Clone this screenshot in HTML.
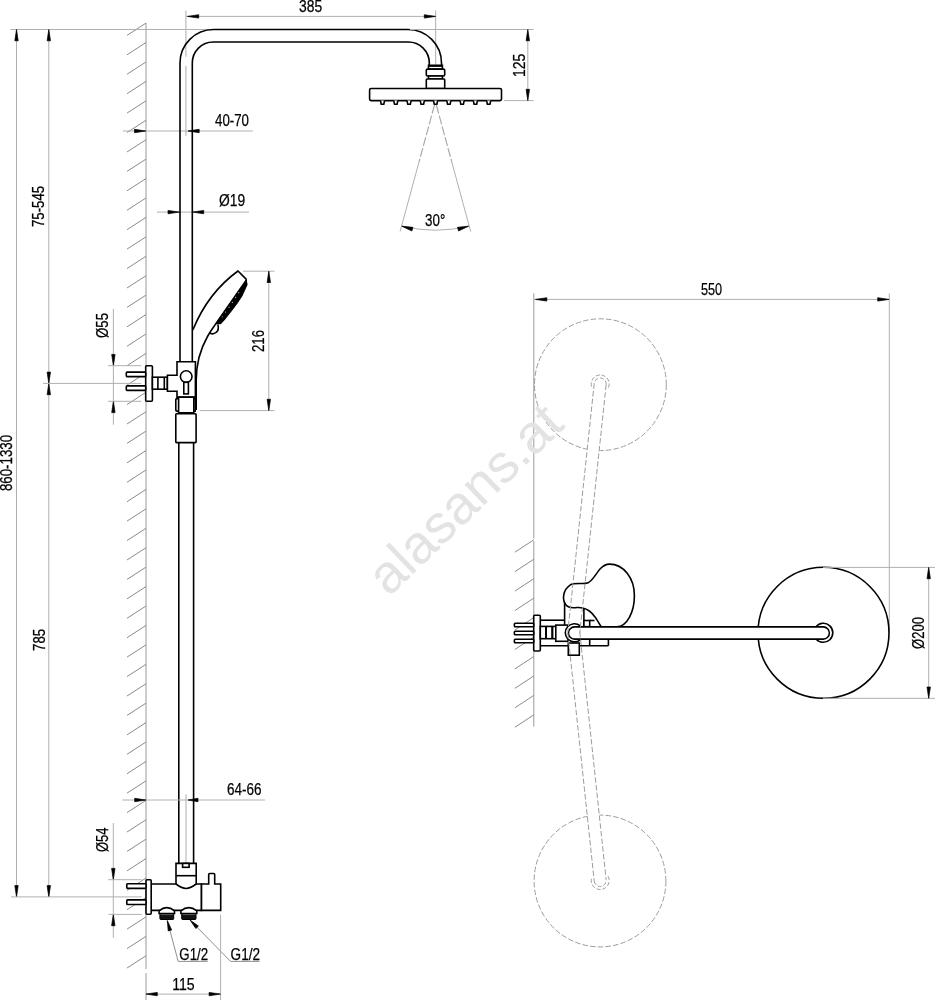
<!DOCTYPE html>
<html><head><meta charset="utf-8"><style>
html,body{margin:0;padding:0;background:#fff;}
svg{display:block;font-family:"Liberation Sans",sans-serif;}
.d{stroke:#b0b0b0;stroke-width:1;fill:none;}
.w{stroke:#9a9a9a;stroke-width:1;fill:none;}
.h{stroke:#8a8a8a;stroke-width:1;fill:none;}
.c{stroke:#bbb;stroke-width:1.2;fill:none;}
.dd{stroke:#9c9c9c;stroke-width:1;fill:none;stroke-dasharray:5.5 2.2;}
.dd2{stroke:#9c9c9c;stroke-width:1;fill:none;stroke-dasharray:4 2;}
.o{stroke:#000;stroke-width:1.6;}
.ar{fill:#000;stroke:#000;stroke-width:0.7;stroke-linejoin:round;}
.sp{stroke:#a8a8a8;stroke-width:1.15;fill:none;stroke-dasharray:9 2.2;}
.ld{stroke:#8f8f8f;stroke-width:1;fill:none;}
.o1{stroke:#000;stroke-width:1;}
text{fill:#000;stroke:#000;stroke-width:0.25px;}
</style></head><body>
<svg width="935" height="1000" viewBox="0 0 935 1000"><g style="will-change:transform">
<line class="w" x1="146.00" y1="23.00" x2="146.00" y2="969.00"/>
<line class="w" x1="146.00" y1="973.00" x2="146.00" y2="1000.00"/>
<line class="h" x1="127.00" y1="35.40" x2="146.00" y2="23.10"/>
<line class="h" x1="127.00" y1="54.83" x2="146.00" y2="42.53"/>
<line class="h" x1="127.00" y1="74.26" x2="146.00" y2="61.96"/>
<line class="h" x1="127.00" y1="93.69" x2="146.00" y2="81.39"/>
<line class="h" x1="127.00" y1="113.12" x2="146.00" y2="100.82"/>
<line class="h" x1="127.00" y1="132.55" x2="146.00" y2="120.25"/>
<line class="h" x1="127.00" y1="151.98" x2="146.00" y2="139.68"/>
<line class="h" x1="127.00" y1="171.41" x2="146.00" y2="159.11"/>
<line class="h" x1="127.00" y1="190.84" x2="146.00" y2="178.54"/>
<line class="h" x1="127.00" y1="210.27" x2="146.00" y2="197.97"/>
<line class="h" x1="127.00" y1="229.70" x2="146.00" y2="217.40"/>
<line class="h" x1="127.00" y1="249.13" x2="146.00" y2="236.83"/>
<line class="h" x1="127.00" y1="268.56" x2="146.00" y2="256.26"/>
<line class="h" x1="127.00" y1="287.99" x2="146.00" y2="275.69"/>
<line class="h" x1="127.00" y1="307.42" x2="146.00" y2="295.12"/>
<line class="h" x1="127.00" y1="326.85" x2="146.00" y2="314.55"/>
<line class="h" x1="127.00" y1="346.28" x2="146.00" y2="333.98"/>
<line class="h" x1="127.00" y1="365.71" x2="146.00" y2="353.41"/>
<line class="h" x1="127.00" y1="385.14" x2="146.00" y2="372.84"/>
<line class="h" x1="127.00" y1="404.57" x2="146.00" y2="392.27"/>
<line class="h" x1="127.00" y1="424.00" x2="146.00" y2="411.70"/>
<line class="h" x1="127.00" y1="443.43" x2="146.00" y2="431.13"/>
<line class="h" x1="127.00" y1="462.86" x2="146.00" y2="450.56"/>
<line class="h" x1="127.00" y1="482.29" x2="146.00" y2="469.99"/>
<line class="h" x1="127.00" y1="501.72" x2="146.00" y2="489.42"/>
<line class="h" x1="127.00" y1="521.15" x2="146.00" y2="508.85"/>
<line class="h" x1="127.00" y1="540.58" x2="146.00" y2="528.28"/>
<line class="h" x1="127.00" y1="560.01" x2="146.00" y2="547.71"/>
<line class="h" x1="127.00" y1="579.44" x2="146.00" y2="567.14"/>
<line class="h" x1="127.00" y1="598.87" x2="146.00" y2="586.57"/>
<line class="h" x1="127.00" y1="618.30" x2="146.00" y2="606.00"/>
<line class="h" x1="127.00" y1="637.73" x2="146.00" y2="625.43"/>
<line class="h" x1="127.00" y1="657.16" x2="146.00" y2="644.86"/>
<line class="h" x1="127.00" y1="676.59" x2="146.00" y2="664.29"/>
<line class="h" x1="127.00" y1="696.02" x2="146.00" y2="683.72"/>
<line class="h" x1="127.00" y1="715.45" x2="146.00" y2="703.15"/>
<line class="h" x1="127.00" y1="734.88" x2="146.00" y2="722.58"/>
<line class="h" x1="127.00" y1="754.31" x2="146.00" y2="742.01"/>
<line class="h" x1="127.00" y1="773.74" x2="146.00" y2="761.44"/>
<line class="h" x1="127.00" y1="793.17" x2="146.00" y2="780.87"/>
<line class="h" x1="127.00" y1="812.60" x2="146.00" y2="800.30"/>
<line class="h" x1="127.00" y1="832.03" x2="146.00" y2="819.73"/>
<line class="h" x1="127.00" y1="851.46" x2="146.00" y2="839.16"/>
<line class="h" x1="127.00" y1="870.89" x2="146.00" y2="858.59"/>
<line class="h" x1="127.00" y1="890.32" x2="146.00" y2="878.02"/>
<line class="h" x1="127.00" y1="909.75" x2="146.00" y2="897.45"/>
<line class="h" x1="127.00" y1="929.18" x2="146.00" y2="916.88"/>
<line class="h" x1="127.00" y1="948.61" x2="146.00" y2="936.31"/>
<line class="h" x1="127.00" y1="968.04" x2="146.00" y2="955.74"/>
<line class="d" x1="10.50" y1="29.50" x2="213.00" y2="29.50"/>
<line class="d" x1="16.50" y1="29.50" x2="16.50" y2="896.90"/>
<path class="ar" d="M16.50,29.50 L18.20,40.80 L14.80,40.80 Z"/>
<path class="ar" d="M16.50,896.90 L14.80,885.60 L18.20,885.60 Z"/>
<line class="d" x1="48.80" y1="29.50" x2="48.80" y2="896.90"/>
<path class="ar" d="M48.80,29.50 L50.50,40.80 L47.10,40.80 Z"/>
<path class="ar" d="M48.80,383.40 L47.10,372.10 L50.50,372.10 Z"/>
<path class="ar" d="M48.80,383.40 L50.50,394.70 L47.10,394.70 Z"/>
<path class="ar" d="M48.80,896.90 L47.10,885.60 L50.50,885.60 Z"/>
<line class="d" x1="43.00" y1="383.40" x2="141.30" y2="383.40"/>
<line class="d" x1="11.00" y1="896.90" x2="141.70" y2="896.90"/>
<text x="44.00" y="227.00" font-size="17.2" textLength="41.07" lengthAdjust="spacingAndGlyphs" transform="rotate(-90 44.00 227.00)">75-545</text>
<text x="12.00" y="491.00" font-size="17.2" textLength="56.01" lengthAdjust="spacingAndGlyphs" transform="rotate(-90 12.00 491.00)">860-1330</text>
<text x="45.00" y="651.00" font-size="17.2" textLength="22.16" lengthAdjust="spacingAndGlyphs" transform="rotate(-90 45.00 651.00)">785</text>
<line class="c" x1="185.90" y1="10.50" x2="185.90" y2="56.70"/>
<line class="c" x1="185.90" y1="65.80" x2="185.90" y2="135.80"/>
<line class="c" x1="435.60" y1="10.60" x2="435.60" y2="65.50"/>
<line class="d" x1="186.20" y1="16.40" x2="435.60" y2="16.40"/>
<path class="ar" d="M187.40,16.40 L198.70,14.70 L198.70,18.10 Z"/>
<path class="ar" d="M435.60,16.40 L424.30,18.10 L424.30,14.70 Z"/>
<text x="299.00" y="12.00" font-size="17.2" textLength="23.16" lengthAdjust="spacingAndGlyphs">385</text>
<line class="d" x1="122.80" y1="131.00" x2="252.90" y2="131.00"/>
<path class="ar" d="M145.80,131.00 L134.50,132.70 L134.50,129.30 Z"/>
<path class="ar" d="M187.90,131.00 L199.20,129.30 L199.20,132.70 Z"/>
<text x="215.00" y="126.00" font-size="17.2" textLength="34.03" lengthAdjust="spacingAndGlyphs">40-70</text>
<line class="d" x1="157.00" y1="212.10" x2="249.00" y2="212.10"/>
<path class="ar" d="M179.30,212.10 L168.00,213.80 L168.00,210.40 Z"/>
<path class="ar" d="M192.40,212.10 L203.70,210.40 L203.70,213.80 Z"/>
<text x="219.00" y="206.00" font-size="17.2" textLength="26.16" lengthAdjust="spacingAndGlyphs">Ø19</text>
<path class="o" fill="none" d="M180,361.8 L180,63 A33.5,33.5 0 0 1 213.5,29.5 L408,29.5 A33.5,33.5 0 0 1 441.5,63 L441.5,65.3"/>
<path class="o" fill="none" d="M192.3,361.8 L192.3,63 A21,21 0 0 1 213.3,42 L408.3,42 A21,21 0 0 1 429.3,63 L429.3,65.3"/>
<line class="d" x1="410.00" y1="29.50" x2="533.60" y2="29.50"/>
<line class="d" x1="504.00" y1="100.60" x2="533.60" y2="100.60"/>
<line class="d" x1="527.80" y1="29.50" x2="527.80" y2="100.60"/>
<path class="ar" d="M527.80,29.50 L529.50,40.80 L526.10,40.80 Z"/>
<path class="ar" d="M527.80,100.60 L526.10,89.30 L529.50,89.30 Z"/>
<text x="524.60" y="77.00" font-size="17.2" textLength="23.25" lengthAdjust="spacingAndGlyphs" transform="rotate(-90 524.60 77.00)">125</text>
<rect class="o" fill="#fff" x="428.5" y="65.3" width="13.9" height="3.8"/>
<rect x="428.5" y="65.3" width="13.9" height="1.6" fill="#000"/>
<rect class="o" fill="#fff" x="426.3" y="69.1" width="18.4" height="6.9" rx="1.2"/>
<rect class="o" fill="#fff" x="428.5" y="76" width="13.9" height="3"/>
<rect class="o" fill="#fff" x="426.3" y="79" width="18.4" height="9.5" rx="0.8"/>
<rect class="o" fill="#fff" x="369.6" y="88.5" width="131.9" height="12.1" rx="1.5"/>
<path class="o" fill="#fff" stroke-linejoin="round" d="M380.50,100.6 L381.20,104.3 L383.80,104.3 L384.50,100.6"/>
<path class="o" fill="#fff" stroke-linejoin="round" d="M393.77,100.6 L394.47,104.3 L397.07,104.3 L397.77,100.6"/>
<path class="o" fill="#fff" stroke-linejoin="round" d="M407.04,100.6 L407.74,104.3 L410.34,104.3 L411.04,100.6"/>
<path class="o" fill="#fff" stroke-linejoin="round" d="M420.31,100.6 L421.01,104.3 L423.61,104.3 L424.31,100.6"/>
<path class="o" fill="#fff" stroke-linejoin="round" d="M433.58,100.6 L434.28,104.3 L436.88,104.3 L437.58,100.6"/>
<path class="o" fill="#fff" stroke-linejoin="round" d="M446.85,100.6 L447.55,104.3 L450.15,104.3 L450.85,100.6"/>
<path class="o" fill="#fff" stroke-linejoin="round" d="M460.12,100.6 L460.82,104.3 L463.42,104.3 L464.12,100.6"/>
<path class="o" fill="#fff" stroke-linejoin="round" d="M473.39,100.6 L474.09,104.3 L476.69,104.3 L477.39,100.6"/>
<path class="o" fill="#fff" stroke-linejoin="round" d="M486.66,100.6 L487.36,104.3 L489.96,104.3 L490.66,100.6"/>
<line class="sp" x1="434.5" y1="104.8" x2="419" y2="162"/>
<line class="sp" x1="436.3" y1="104.8" x2="451.8" y2="162"/>
<line class="d" x1="419.00" y1="162.00" x2="400.10" y2="231.50"/>
<line class="d" x1="451.80" y1="162.00" x2="470.70" y2="231.50"/>
<path class="d" d="M401.8,226 Q436,234.5 468.6,226"/>
<path class="ar" d="M401.80,226.20 L412.90,227.35 L411.87,231.01 Z"/>
<path class="ar" d="M468.60,226.20 L458.53,231.01 L457.50,227.35 Z"/>
<text x="425.00" y="226.00" font-size="17.2" textLength="20.27" lengthAdjust="spacingAndGlyphs">30°</text>
<rect class="o" fill="#fff" x="145.7" y="365.7" width="6.7" height="35.6" rx="1"/>
<rect class="o" fill="#fff" x="126.3" y="372.1" width="19.4" height="4.5" rx="0.8"/>
<rect class="o" fill="#fff" x="126.3" y="385.9" width="19.4" height="4.5" rx="0.8"/>
<rect class="o" fill="#fff" x="152.4" y="377.2" width="15" height="12"/>
<line class="o" x1="157.90" y1="377.20" x2="157.90" y2="389.20"/>
<line class="o" x1="164.30" y1="377.20" x2="164.30" y2="389.20"/>
<path class="o" fill="#fff" d="M167.4,375.3 L177,375.3 L177,361.8 L195.4,361.8 L195.4,397.1 L177,397.1 L177,391.3 L167.4,391.3 Z"/>
<circle class="o" fill="#fff" cx="186.2" cy="376.6" r="5.8"/>
<rect class="o" fill="#fff" x="183.8" y="382.3" width="4.6" height="11.6"/>
<path class="o" fill="#fff" d="M178.6,398.6 L177,398.6 Q175.8,398.6 175.8,399.8 L175.8,409.9 Q175.8,411.1 177,411.1 L178.6,411.1"/>
<path class="o" fill="#fff" d="M193.8,398.6 L195.2,398.6 L195.2,411.1 L193.8,411.1"/>
<rect class="o" fill="#fff" x="178.6" y="397.2" width="15.2" height="15.6"/>
<rect class="o" fill="#fff" x="175.8" y="413.7" width="20.3" height="28.9" rx="0.8"/>
<line class="o" x1="178.80" y1="442.70" x2="178.80" y2="863.40"/>
<line class="o" x1="193.60" y1="442.70" x2="193.60" y2="863.40"/>
<line class="d" x1="113.40" y1="309.00" x2="113.40" y2="424.70"/>
<path class="ar" d="M113.40,365.70 L111.70,354.40 L115.10,354.40 Z"/>
<path class="ar" d="M113.40,401.30 L115.10,412.60 L111.70,412.60 Z"/>
<line class="d" x1="108.00" y1="365.70" x2="141.30" y2="365.70"/>
<line class="d" x1="108.00" y1="401.30" x2="141.30" y2="401.30"/>
<text x="108.00" y="338.00" font-size="17.2" textLength="25.02" lengthAdjust="spacingAndGlyphs" transform="rotate(-90 108.00 338.00)">Ø55</text>
<path class="o" fill="none" d="M192.8,330 C202.4,306.6 217.8,285.6 238,271 L246.6,279.6"/>
<path class="o" fill="none" d="M246.6,279.6 L216,323.5 C213.5,327 210.5,331 207.5,336.5 C201,348 196.3,362 196.2,380 L196.2,410"/>
<path d="M246.2,280.6 L247,284.6 L241.8,296 L237.2,303 L231.2,311 L225.2,318.5 L220.6,323.6 L216.4,323.6 Z" fill="#000" stroke="#000" stroke-width="1.2" stroke-linejoin="round"/>
<circle cx="238.7" cy="292.7" r="0.65" fill="#aaa"/>
<circle cx="235.6" cy="297.5" r="0.65" fill="#aaa"/>
<circle cx="232.4" cy="302.4" r="0.65" fill="#aaa"/>
<circle cx="229.1" cy="307.2" r="0.65" fill="#aaa"/>
<circle cx="225.6" cy="312.1" r="0.65" fill="#aaa"/>
<circle cx="222.3" cy="316.8" r="0.65" fill="#aaa"/>
<path class="o" fill="none" d="M217.8,324.5 C218.6,327 218.4,330.8 215.8,332.6 C213.6,334 210.8,334.2 209.4,332.4"/>
<line class="d" x1="243.00" y1="271.20" x2="274.50" y2="271.20"/>
<line class="d" x1="199.70" y1="410.60" x2="274.50" y2="410.60"/>
<line class="d" x1="268.80" y1="271.20" x2="268.80" y2="410.60"/>
<path class="ar" d="M268.80,271.20 L270.50,282.50 L267.10,282.50 Z"/>
<path class="ar" d="M268.80,410.60 L267.10,399.30 L270.50,399.30 Z"/>
<text x="264.00" y="352.00" font-size="17.2" textLength="22.08" lengthAdjust="spacingAndGlyphs" transform="rotate(-90 264.00 352.00)">216</text>
<line class="d" x1="122.20" y1="800.00" x2="265.20" y2="800.00"/>
<path class="ar" d="M146.00,800.00 L134.70,801.70 L134.70,798.30 Z"/>
<path class="ar" d="M188.00,800.00 L198.00,798.30 L198.00,801.70 Z"/>
<line class="c" x1="186.00" y1="794.30" x2="186.00" y2="871.00"/>
<text x="226.90" y="794.80" font-size="17.2" textLength="34.56" lengthAdjust="spacingAndGlyphs">64-66</text>
<path class="o" fill="#fff" d="M151.2,884 L201.5,884 L201.5,910.4 L151.2,910.4 Z"/>
<path class="o" fill="#fff" d="M201.5,884 L208.7,884 L208.7,874.5 Q208.7,873.5 209.7,873.5 L213.7,873.5 Q214.7,873.5 214.7,874.5 L214.7,884 L220.7,884 L220.7,910.4 L201.5,910.4 Z"/>
<path class="o" fill="#fff" d="M176,863.4 L196.2,863.4 L196.2,884 Q190,888.5 186.1,888.5 Q182,888.5 176,884 Z"/>
<line class="o" x1="176.00" y1="875.70" x2="196.20" y2="875.70"/>
<rect class="o" fill="#fff" x="182.6" y="863.4" width="6.5" height="3.9"/>
<rect class="o" fill="#fff" x="146" y="879.7" width="5.2" height="34.6" rx="1"/>
<rect class="o" fill="#fff" x="126.8" y="883.8" width="19.2" height="4.6" rx="0.8"/>
<rect class="o" fill="#fff" x="126.8" y="899.9" width="19.2" height="4.6" rx="0.8"/>
<path class="o" fill="#fff" d="M159.1,910.8 Q166.8,904.5 174.5,910.8 L174.5,913.5 L159.1,913.5 Z"/>
<rect x="159.9" y="913.5" width="13.80" height="6" rx="0.8" fill="#111" stroke="#000" stroke-width="1"/>
<line x1="160.6" y1="914.6" x2="173.0" y2="914.6" stroke="#777" stroke-width="0.7"/>
<path class="o" fill="#fff" d="M180.9,910.8 Q188.85000000000002,904.5 196.8,910.8 L196.8,913.5 L180.9,913.5 Z"/>
<rect x="181.70000000000002" y="913.5" width="14.30" height="6" rx="0.8" fill="#111" stroke="#000" stroke-width="1"/>
<line x1="182.4" y1="914.6" x2="195.3" y2="914.6" stroke="#777" stroke-width="0.7"/>
<line class="d" x1="113.30" y1="823.00" x2="113.30" y2="937.80"/>
<path class="ar" d="M113.30,879.70 L111.60,868.40 L115.00,868.40 Z"/>
<path class="ar" d="M113.30,914.40 L115.00,925.70 L111.60,925.70 Z"/>
<line class="d" x1="108.40" y1="879.70" x2="141.70" y2="879.70"/>
<line class="d" x1="108.40" y1="914.40" x2="141.70" y2="914.40"/>
<text x="108.00" y="852.00" font-size="17.2" textLength="24.57" lengthAdjust="spacingAndGlyphs" transform="rotate(-90 108.00 852.00)">Ø54</text>
<line class="ld" x1="167.30" y1="920.60" x2="178.20" y2="961.40"/>
<line class="ld" x1="178.20" y1="961.40" x2="207.60" y2="961.40"/>
<path class="ar" d="M167.30,920.60 L171.69,929.98 L168.21,930.92 Z"/>
<line class="ld" x1="190.00" y1="920.00" x2="230.60" y2="961.40"/>
<line class="ld" x1="230.60" y1="961.40" x2="259.40" y2="961.40"/>
<path class="ar" d="M190.00,920.00 L198.43,926.02 L195.86,928.54 Z"/>
<text x="179.30" y="959.60" font-size="17.2" textLength="28.80" lengthAdjust="spacingAndGlyphs">G1/2</text>
<text x="230.60" y="959.60" font-size="17.2" textLength="29.49" lengthAdjust="spacingAndGlyphs">G1/2</text>
<line class="d" x1="220.60" y1="914.70" x2="220.60" y2="1000.00"/>
<line class="d" x1="146.00" y1="994.10" x2="220.60" y2="994.10"/>
<path class="ar" d="M146.00,994.10 L157.30,992.40 L157.30,995.80 Z"/>
<path class="ar" d="M220.40,994.10 L209.10,995.80 L209.10,992.40 Z"/>
<text x="172.20" y="989.80" font-size="17.2" textLength="22.52" lengthAdjust="spacingAndGlyphs">115</text>
<line class="w" x1="533.80" y1="293.50" x2="533.80" y2="538.50"/>
<line class="w" x1="533.80" y1="541.00" x2="533.80" y2="726.60"/>
<line class="h" x1="514.90" y1="552.20" x2="533.80" y2="539.80"/>
<line class="h" x1="514.90" y1="571.65" x2="533.80" y2="559.25"/>
<line class="h" x1="514.90" y1="591.10" x2="533.80" y2="578.70"/>
<line class="h" x1="514.90" y1="610.55" x2="533.80" y2="598.15"/>
<line class="h" x1="514.90" y1="630.00" x2="533.80" y2="617.60"/>
<line class="h" x1="514.90" y1="649.45" x2="533.80" y2="637.05"/>
<line class="h" x1="514.90" y1="668.90" x2="533.80" y2="656.50"/>
<line class="h" x1="514.90" y1="688.35" x2="533.80" y2="675.95"/>
<line class="h" x1="514.90" y1="707.80" x2="533.80" y2="695.40"/>
<line class="h" x1="514.90" y1="727.25" x2="533.80" y2="714.85"/>
<line class="d" x1="889.30" y1="293.50" x2="889.30" y2="632.00"/>
<line class="d" x1="534.00" y1="299.40" x2="889.30" y2="299.40"/>
<path class="ar" d="M535.50,299.40 L546.80,297.70 L546.80,301.10 Z"/>
<path class="ar" d="M889.00,299.40 L877.70,301.10 L877.70,297.70 Z"/>
<text x="701.00" y="295.00" font-size="17.2" textLength="21.15" lengthAdjust="spacingAndGlyphs">550</text>
<circle class="dd" cx="600.4" cy="384.7" r="65.9"/>
<circle class="dd" cx="600" cy="881" r="65.9"/>
<path fill="#fff" stroke="none" d="M594.23,383.36 L584.53,474.36 L596.47,475.64 L606.17,384.64 Z"/>
<path fill="#fff" stroke="none" d="M585.03,790.61 L594.23,881.11 L606.17,879.89 L596.97,789.39 Z"/>
<path class="dd2" d="M606.17,384.63 A6,6 0 0 0 594.23,383.37"/>
<path class="dd2" d="M591.55,386.47 A9,9 0 1 1 608.14,388.23"/>
<path class="dd2" d="M594.23,881.13 A6,6 0 0 0 606.17,879.87"/>
<path class="dd2" d="M608.14,876.27 A9,9 0 1 1 591.55,878.03"/>
<circle class="o" fill="none" cx="823.5" cy="632.8" r="65.5"/>
<line class="d" x1="823.00" y1="567.40" x2="935.00" y2="567.40"/>
<line class="d" x1="823.00" y1="698.30" x2="935.00" y2="698.30"/>
<line class="d" x1="928.70" y1="567.40" x2="928.70" y2="698.30"/>
<path class="ar" d="M928.70,567.40 L930.40,578.70 L927.00,578.70 Z"/>
<path class="ar" d="M928.70,698.30 L927.00,687.00 L930.40,687.00 Z"/>
<text x="924.00" y="649.00" font-size="17.2" textLength="32.08" lengthAdjust="spacingAndGlyphs" transform="rotate(-90 924.00 649.00)">Ø200</text>
<rect class="o" fill="#fff" x="533.7" y="615.3" width="6.6" height="35.7" rx="1"/>
<rect class="o" fill="#fff" x="514.4" y="623.2" width="19.3" height="3.6" rx="0.8"/>
<rect class="o" fill="#fff" x="514.4" y="631.2" width="19.3" height="3.6" rx="0.8"/>
<rect class="o" fill="#fff" x="514.4" y="639.2" width="19.3" height="3.6" rx="0.8"/>
<line class="o" x1="540.30" y1="620.20" x2="564.60" y2="620.20"/>
<line class="o" x1="540.30" y1="645.80" x2="608.40" y2="645.80"/>
<rect class="o" fill="#fff" x="540.3" y="626.4" width="15.5" height="12.3"/>
<rect x="545" y="626.4" width="2" height="12.3" fill="#000"/>
<rect x="551.2" y="626.4" width="2.2" height="12.3" fill="#000"/>
<rect class="o" fill="#fff" x="555.8" y="625.1" width="12.3" height="16.2"/>
<rect class="o" fill="#fff" x="568.3" y="643" width="11" height="12.2"/>
<line class="o" x1="564.60" y1="602.00" x2="564.60" y2="625.10"/>
<line class="o" x1="583.90" y1="608.90" x2="583.90" y2="626.70"/>
<rect class="o" fill="#fff" x="583.9" y="620.5" width="5.8" height="6.2"/>
<line class="o" x1="589.70" y1="620.50" x2="594.50" y2="620.50"/>
<line class="o" x1="589.70" y1="639.30" x2="589.70" y2="645.80"/>
<line class="o" x1="608.40" y1="639.30" x2="608.40" y2="645.80"/>
<path class="o" fill="#fff" d="M601.2,626.7 C597.5,622 595,613 586.8,609.4 C583,607.6 579.5,607.3 577.1,607.5 C573,608 568.5,608.3 566,605 C562,600 562.5,590 570.4,584.8 C575,582.2 583.5,584.8 588.7,582.4 C593,580 596.5,573 600,569 C603,565.8 606,564.1 609.5,564.1 C623.5,564.1 634.4,578 634.4,595.4 C634.4,612 627,626.7 616.6,626.7 Z"/>
<path fill="#fff" stroke="none" d="M580.25,625.83 A9.1,9.1 0 1 0 580.25,639.77 Z"/>
<path class="o" fill="none" d="M580.25,625.83 A9.1,9.1 0 1 0 580.25,639.77"/>
<path fill="#fff" stroke="none" d="M816,626.7 A9.5,9.5 0 1 1 816,638.9 Z"/>
<path class="o" fill="none" d="M816,626.7 A9.5,9.5 0 1 1 816,638.9"/>
<path class="o" fill="#fff" d="M823.3,626.9 L574.5,626.9 A6.1,6.1 0 0 0 574.5,639.1 L823.3,639.1 A6.1,6.1 0 0 0 823.3,626.9 Z"/>
<path class="dd" d="M594.23,383.37 L567.83,631.87"/>
<path class="dd" d="M606.17,384.63 L579.77,633.13"/>
<path class="dd" d="M567.83,633.14 L594.23,881.14"/>
<path class="dd" d="M579.77,631.86 L606.17,879.86"/>
<text x="465" y="517" font-size="54" text-anchor="middle" style="fill:#e3e3e3;stroke:none" transform="rotate(-44 465 499)">alasans.at</text>
</g></svg></body></html>
